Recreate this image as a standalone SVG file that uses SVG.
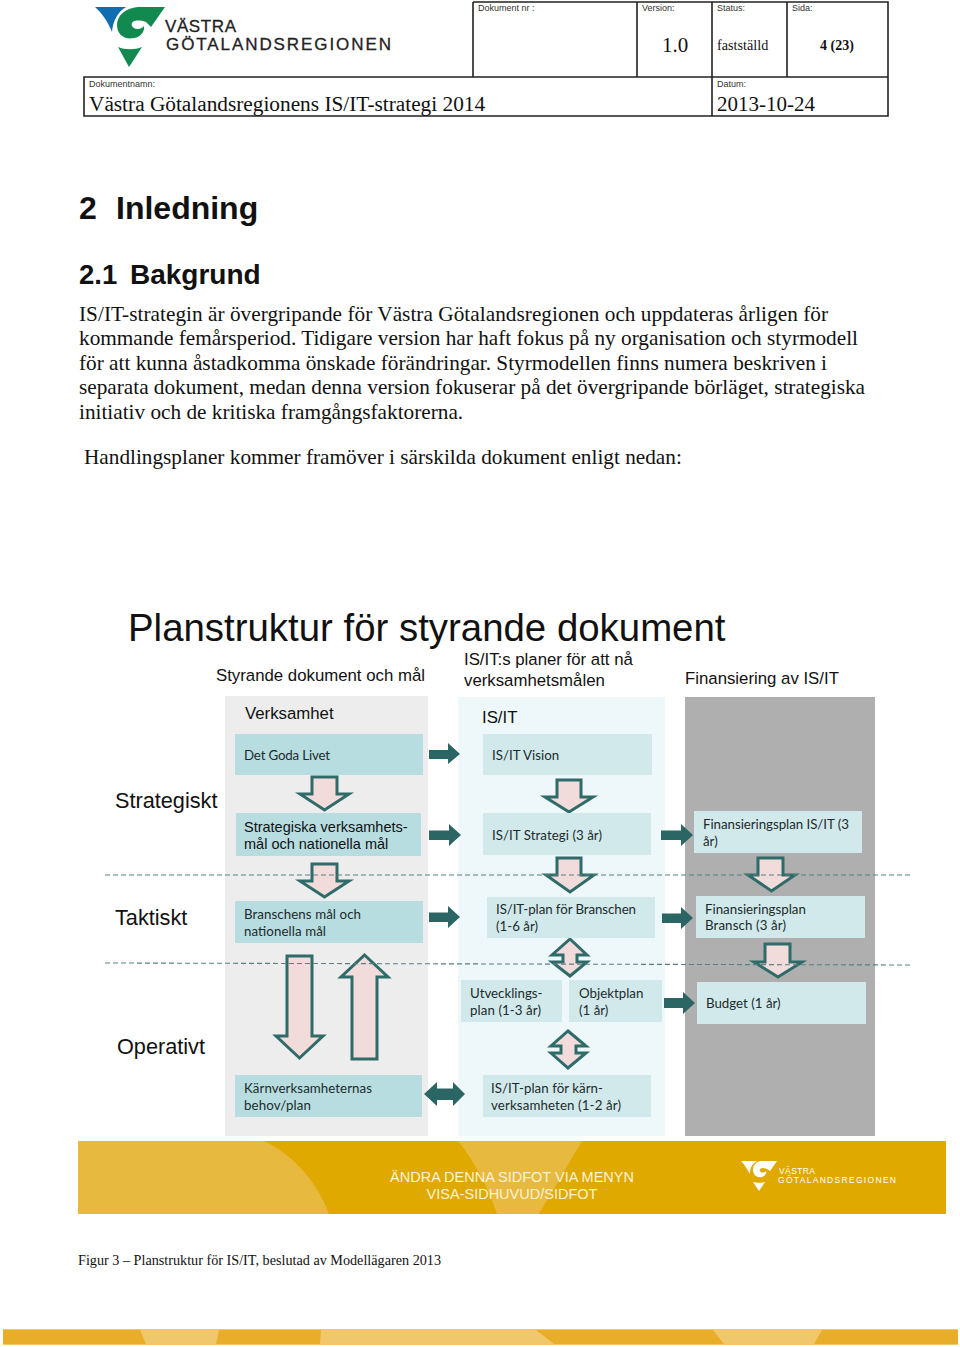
<svg xmlns="http://www.w3.org/2000/svg" width="960" height="1347" viewBox="0 0 960 1347">
<style>
text{font-family:"Liberation Sans",Arial,sans-serif;fill:#111}
.s{font-family:"Liberation Serif","Times New Roman",serif}
.tl{stroke:#222;stroke-width:1.6;fill:none}
.sm{font-size:9px;fill:#333}
.body{font-family:"Liberation Serif","Times New Roman",serif;font-size:21.25px}
.h1{font-size:16.8px}
.lv{font-size:21.7px}
.b{font-family:Lato,"Noto Sans",sans-serif;font-size:13.3px;fill:#1c2b2b}
.bx{fill:#b7dde1}
.bl{fill:#d2e9ec}
.pk{fill:#f2dbdb;stroke:#2f6b69;stroke-width:3;stroke-linejoin:miter}
.gr{fill:#2c6664}
.dash{stroke:#5c7f82;stroke-width:1.1;stroke-dasharray:5 3;fill:none}
.ft{font-size:14.5px;fill:#fdf3d8;text-anchor:middle}
.lg{font-size:17px;fill:#222;stroke:#222;stroke-width:.3}
.fl{fill:#e7ba3f}
.bd{fill:#e8ae2a}
.bs{fill:#f0c76a}
</style>

<g id="header">
<path d="M95 7H126C118 12 113 20 112 32C108 22 102 13 95 7Z" fill="#0f6db0"/>
<path d="M165 7H138C125 8 117 16 117 25C117 34 124 40 134 38C141 37 145 31 144 26C141 30 134 30 132 26C130 21 137 19 146 22L151 27Z" fill="#128a4f"/>
<path d="M118 47C125 50 135 50 142 47L129 67Z" fill="#128a4f"/>
<text class="lg" x="165" y="32" textLength="71">VÄSTRA</text>
<text class="lg" x="166" y="50" textLength="225">GÖTALANDSREGIONEN</text>
<path class="tl" d="M473 2H888V116H84V77H888M473 2V77M637 2V77M712 2V116M787 2V77"/>
<text class="sm" x="478" y="11">Dokument nr :</text>
<text class="sm" x="642" y="11">Version:</text>
<text class="sm" x="717" y="11">Status:</text>
<text class="sm" x="792" y="11">Sida:</text>
<text class="s" x="662" y="52" font-size="21">1.0</text>
<text class="s" x="717" y="50" font-size="14.2">fastställd</text>
<text class="s" x="820" y="50" font-size="14" font-weight="bold">4 (23)</text>
<text class="sm" x="89" y="87">Dokumentnamn:</text>
<text class="sm" x="717" y="87">Datum:</text>
<text class="s" x="89" y="111" font-size="21.3">Västra Götalandsregionens IS/IT-strategi 2014</text>
<text class="s" x="717" y="111" font-size="21">2013-10-24</text>
</g>

<g id="intro">
<text x="79" y="219" font-size="32" font-weight="bold">2</text>
<text x="116" y="219" font-size="32" font-weight="bold">Inledning</text>
<text x="79" y="284" font-size="27.5" font-weight="bold">2.1</text>
<text x="130" y="284" font-size="28" font-weight="bold">Bakgrund</text>
<text class="body" x="79" y="321" textLength="749">IS/IT-strategin är övergripande för Västra Götalandsregionen och uppdateras årligen för</text>
<text class="body" x="79" y="345" textLength="779">kommande femårsperiod. Tidigare version har haft fokus på ny organisation och styrmodell</text>
<text class="body" x="79" y="370" textLength="748">för att kunna åstadkomma önskade förändringar. Styrmodellen finns numera beskriven i</text>
<text class="body" x="79" y="394" textLength="786">separata dokument, medan denna version fokuserar på det övergripande börläget, strategiska</text>
<text class="body" x="79" y="419">initiativ och de kritiska framgångsfaktorerna.</text>
<text class="body" x="84" y="464">Handlingsplaner kommer framöver i särskilda dokument enligt nedan:</text>
</g>

<g id="panels">
<rect x="225" y="696" width="203" height="440" fill="#ededed"/>
<rect x="458" y="697" width="207" height="439" fill="#eef7f9"/>
<rect x="685" y="697" width="190" height="439" fill="#afafaf"/>
</g>

<g id="titles">
<text x="128" y="641" font-size="38.4">Planstruktur för styrande dokument</text>
<text class="h1" x="216" y="681">Styrande dokument och mål</text>
<text class="h1" x="464" y="665">IS/IT:s planer för att nå</text>
<text class="h1" x="464" y="686">verksamhetsmålen</text>
<text class="h1" x="685" y="684">Finansiering av IS/IT</text>
<text class="h1" x="245" y="719">Verksamhet</text>
<text class="h1" x="482" y="723">IS/IT</text>
<text class="lv" x="115" y="808">Strategiskt</text>
<text class="lv" x="115" y="925">Taktiskt</text>
<text class="lv" x="117" y="1054">Operativt</text>
</g>

<g id="connectors">
<polygon class="pk" points="312,777 337,777 337,794 349,794 324.500,810 300,794 312,794"/>
<polygon class="pk" points="312,864 337,864 337,881 349,881 324.500,897 300,881 312,881"/>
<polygon class="pk" points="557,780 581,780 581,797 593,797 569,812 545,797 557,797"/>
<polygon class="pk" points="557,858 581,858 581,875 594,875 570,892 546,875 557,875"/>
<polygon class="pk" points="758,858 783,858 783,875 795,875 771.500,891 748,875 758,875"/>
<polygon class="pk" points="765,944 790,944 790,962 802,962 778,977 754,962 765,962"/>
<polygon class="pk" points="287,956 312,956 312,1036 323,1036 299.500,1058 276,1036 287,1036"/>
<polygon class="pk" points="352,1059 377,1059 377,977 388,977 364.500,955 341,977 352,977"/>
<polygon class="pk" points="570,939 587,955 577,955 577,962 587,962 570,976 552,962 563,962 563,955 552,955"/>
<polygon class="pk" points="568,1031 586,1046 576,1046 576,1053 586,1053 568,1068 551,1053 561,1053 561,1046 551,1046"/>
<polygon class="gr" points="429,750 448,750 448,743 460,754 448,764 448,759 429,759"/>
<polygon class="gr" points="429,830.500 449,830.500 449,824 461,835 449,846 449,840 429,840"/>
<polygon class="gr" points="429,912.500 448,912.500 448,906 460,917 448,928 448,922 429,922"/>
<polygon class="gr" points="661,830.500 681,830.500 681,824 693,835 681,846 681,840 661,840"/>
<polygon class="gr" points="662,913.500 681,913.500 681,907 693,918 681,929 681,923 662,923"/>
<polygon class="gr" points="664,998 683,998 683,992 695,1003 683,1014 683,1008 664,1008"/>
<polygon class="gr" points="424,1094 437,1082 437,1088.500 453,1088.500 453,1082 465,1094 453,1106 453,1100 437,1100 437,1106"/>
<path class="dash" d="M105 875H912"/>
<path class="dash" d="M105 963L912 965"/>
</g>

<g id="n-det-goda-livet"><rect class="bx" x="235" y="734" width="188" height="41"/><text class="b" x="244" y="760" textLength="86">Det Goda Livet</text></g>
<g id="n-strategiska"><rect class="bx" x="236" y="813" width="185" height="43"/><text x="244" y="832" font-size="14.500">Strategiska verksamhets-</text><text x="244" y="849" font-size="14.500">mål och nationella mål</text></g>
<g id="n-branschens"><rect class="bx" x="235" y="901" width="188" height="42"/><text class="b" x="244" y="919" textLength="117">Branschens mål och</text><text class="b" x="244" y="936" textLength="82">nationella mål</text></g>
<g id="n-karnverksamheternas"><rect class="bx" x="235" y="1075" width="187" height="42"/><text class="b" x="244" y="1093" textLength="128">Kärnverksamheternas</text><text class="b" x="244" y="1110" textLength="67">behov/plan</text></g>
<g id="n-vision"><rect class="bl" x="483" y="734" width="169" height="41"/><text class="b" x="492" y="760">IS/IT Vision</text></g>
<g id="n-strategi"><rect class="bl" x="483" y="813" width="168" height="42"/><text class="b" x="492" y="840" textLength="110">IS/IT Strategi (3 år)</text></g>
<g id="n-plan-branschen"><rect class="bl" x="487" y="897" width="168" height="41"/><text class="b" x="496" y="914" textLength="140">IS/IT-plan för Branschen</text><text class="b" x="496" y="931">(1-6 år)</text></g>
<g id="n-utvecklingsplan"><rect class="bl" x="461" y="980" width="101" height="42"/><text class="b" x="470" y="998">Utvecklings-</text><text class="b" x="470" y="1015" textLength="71">plan (1-3 år)</text></g>
<g id="n-objektplan"><rect class="bl" x="569" y="980" width="93" height="42"/><text class="b" x="579" y="998">Objektplan</text><text class="b" x="579" y="1015">(1 år)</text></g>
<g id="n-plan-karn"><rect class="bl" x="483" y="1075" width="168" height="42"/><text class="b" x="491" y="1093" textLength="112">IS/IT-plan för kärn-</text><text class="b" x="491" y="1110" textLength="130">verksamheten (1-2 år)</text></g>
<g id="n-fin-isit"><rect class="bl" x="694" y="811" width="168" height="42"/><text class="b" x="703" y="829" textLength="146">Finansieringsplan IS/IT (3</text><text class="b" x="703" y="846">år)</text></g>
<g id="n-fin-bransch"><rect class="bl" x="696" y="896" width="169" height="42"/><text class="b" x="705" y="914">Finansieringsplan</text><text class="b" x="705" y="930" textLength="81">Bransch (3 år)</text></g>
<g id="n-budget"><rect class="bl" x="697" y="982" width="169" height="42"/><text class="b" x="706" y="1008">Budget (1 år)</text></g>

<g id="footer">
<rect x="78" y="1141" width="868" height="73" fill="#e0a900"/>
<path class="fl" d="M78 1141H264C298 1158 318 1185 329 1214H78Z"/>
<path class="fl" d="M458 1141H582L539 1214H497C488 1187 475 1162 458 1141Z"/>
<text class="ft" x="512" y="1182">ÄNDRA DENNA SIDFOT VIA MENYN</text>
<text class="ft" x="512" y="1199">VISA-SIDHUVUD/SIDFOT</text>
<path d="M741 1161H757C752 1164 750 1168 750 1174C747 1169 745 1165 741 1161Z" fill="#fff"/>
<path d="M777 1161H761C755 1162 753 1166 753 1170C753 1175 757 1178 762 1177C765 1176 767 1173 766 1171C764 1173 761 1173 760 1171C759 1168 763 1167 767 1169L770 1171Z" fill="#fff"/>
<path d="M753 1182C756 1183 761 1183 765 1182L759 1191Z" fill="#fff"/>
<text x="779" y="1174" font-size="8.500" textLength="36" style="fill:#fff">VÄSTRA</text>
<text x="778" y="1183" font-size="8.500" textLength="118" style="fill:#fff">GÖTALANDSREGIONEN</text>
<text class="s" x="78" y="1265" font-size="14.200">Figur 3 – Planstruktur för IS/IT, beslutad av Modellägaren 2013</text>
<rect class="bs" x="3" y="1329" width="955" height="16"/>
<path class="bd" d="M3 1330H140L146 1344H3Z"/>
<path class="bd" d="M219 1330H321L320 1344H216Z"/>
<path class="bd" d="M536 1330H713L724 1344H554Z"/>
<path class="bd" d="M822 1330H958V1344H814Z"/>
</g>
</svg>
